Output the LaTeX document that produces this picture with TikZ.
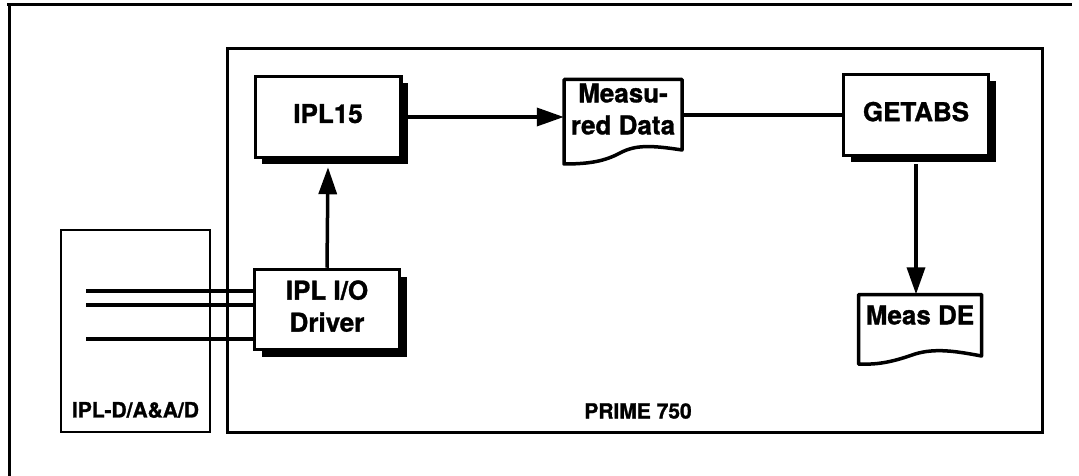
\documentclass[tikz,border=0pt]{standalone}
\usepackage{fontspec}
\setmainfont{TeX Gyre Heros}[BoldFeatures={FakeBold=1.2}]
\usetikzlibrary{arrows.meta,shadows,calc}
\begin{document}
\begin{tikzpicture}[x=1pt,y=-1pt,
  every node/.style={font=\bfseries\fontsize{26}{32}\selectfont, inner sep=0pt},
  pbox/.style={draw, line width=3.5pt, fill=white, align=center, text depth=7pt,
    general shadow={fill=black, shadow xshift=7pt, shadow yshift=-7pt}},
  container/.style={draw, line width=3pt},
  docline/.style={line width=3.5pt, line join=round},
  conn/.style={line width=3.5pt},
  arr/.style={conn, -{Triangle[length=27pt,width=18pt]}},
  lbl/.style={font=\bfseries\fontsize{21}{24}\selectfont},
  framestyle/.style={line width=3pt}
]
\useasboundingbox (0,0) rectangle (1079,476);

% outer frame (top and left edges only, as scanned)
\draw[framestyle] (7,5) -- (1072,5);
\draw[framestyle] (9,4) -- (9,476);

% containers
\node[container, minimum width=815pt, minimum height=384pt] (prime) at (635,240.5) {};
\node[container, line width=2.5pt, minimum width=149pt, minimum height=202pt] (ipld) at (135.5,331) {};
\node[lbl] (primelbl) at (638,411) {PRIME 750};
\node[lbl] (ipldlbl) at (135.5,410) {IPL-D/A\&A/D};

% process boxes
\node[pbox, minimum width=145.5pt, minimum height=81pt] (ipl15) at (328,117) {IPL15};
\node[pbox, minimum width=145pt, minimum height=80pt] (driver) at (327,309.5) {IPL I/O\\Driver};
\node[pbox, minimum width=145pt, minimum height=81pt] (getabs) at (916,115) {GETABS};

% document shapes
\draw[docline] (564,79.5) -- (682,79.5) -- (682,150)
  .. controls (650,145) and (635,145) .. (620,153)
  .. controls (605,161) and (590,164) .. (564,164) -- cycle;
\node[align=center, minimum width=118pt, minimum height=59pt] (md) at (623,109) {Measu-\\red Data};

\draw[docline] (858.5,294.5) -- (981.5,294.5) -- (981.5,356)
  .. controls (955,351) and (935,348) .. (915,354)
  .. controls (895,361) and (880,365) .. (858.5,364) -- cycle;
\node[minimum width=123pt, minimum height=41pt] (mde) at (920,315) {Meas DE};

% connectors
\draw[arr] (driver.north) -- ($(ipl15.south)+(0,8)$);
\draw[arr] (ipl15.east) -- (ipl15.east -| md.west);
\draw[conn] (md.east |- getabs.west) -- (getabs.west);
\draw[arr] ($(getabs.south)+(0,7)$) -- (getabs.south |- mde.north);

\coordinate (in1) at (86,291);
\coordinate (in2) at (86,305);
\coordinate (in3) at (86,339);
\draw[conn] (in1) -- (in1 -| driver.west);
\draw[conn] (in2) -- (in2 -| driver.west);
\draw[conn] (in3) -- (in3 -| driver.west);
\end{tikzpicture}
\end{document}
